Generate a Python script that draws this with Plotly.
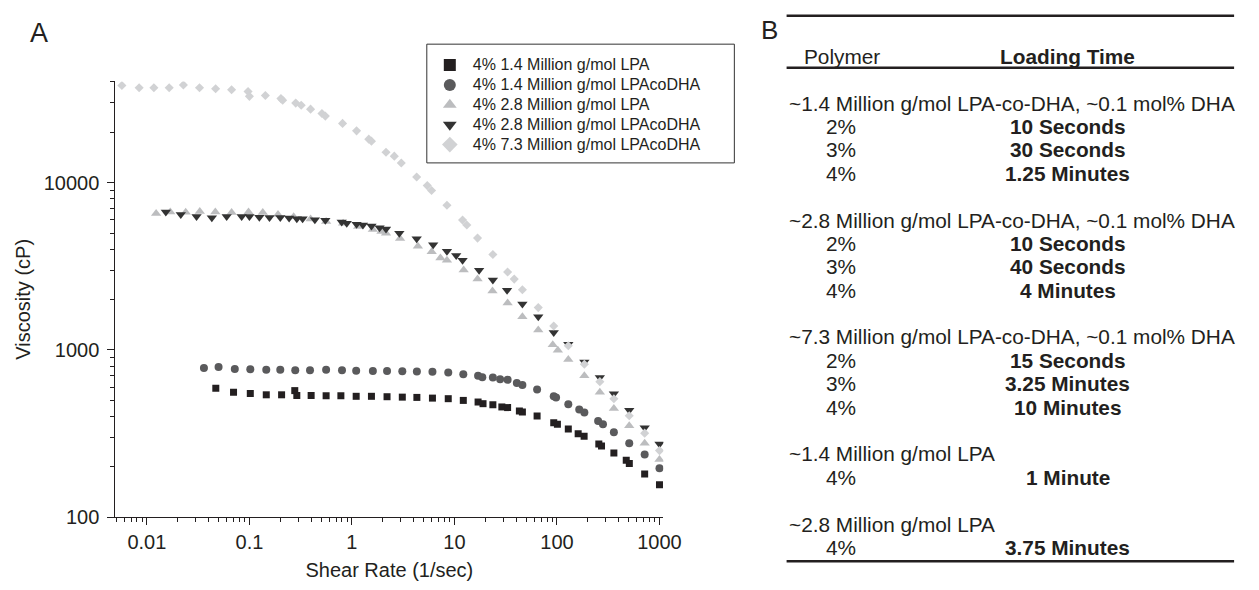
import plotly.graph_objects as go

W, H = 1259, 590

# ---------------- data ----------------
series_names = [
    "4% 1.4 Million g/mol LPA",
    "4% 1.4 Million g/mol LPAcoDHA",
    "4% 2.8 Million g/mol LPA",
    "4% 2.8 Million g/mol LPAcoDHA",
    "4% 7.3 Million g/mol LPAcoDHA",
]

sq_x = [0.047, 0.070, 0.102, 0.146, 0.206, 0.277, 0.29, 0.40, 0.56, 0.78, 1.1, 1.55, 2.2, 3.1, 4.3,
        6.1, 8.7, 12.2, 17, 19, 23.7, 29, 33, 43, 46, 64, 93, 101, 129, 161, 184, 256, 272, 359,
        474, 508, 717, 1000]
sq_y = [590, 558, 549, 539, 539, 571, 534, 534, 532, 532, 528, 528, 525, 522, 520,
        515, 511, 499, 488, 477, 470, 456, 452, 432, 426, 403, 367, 359, 337, 315, 305, 274, 266, 242,
        219, 209, 181, 156]

circ_x = [0.036, 0.050, 0.072, 0.102, 0.146, 0.2, 0.28, 0.39, 0.56, 0.8, 1.1, 1.6, 2.2, 3.1, 4.3,
          6.1, 8.7, 12.2, 17, 18.7, 23.7, 27.9, 33, 40.6, 46, 64, 93, 98, 129, 165, 185, 252, 281,
          359, 507, 717, 1000]
circ_y = [780, 790, 770, 765, 760, 760, 755, 755, 760, 755, 750, 748, 748, 745, 742,
          740, 732, 716, 700, 687, 684, 668, 663, 634, 617, 579, 529, 520, 473, 440, 422, 376, 359,
          322, 277, 237, 196]

up_x = [0.0123, 0.0169, 0.0239, 0.0328, 0.0465, 0.067, 0.098, 0.135, 0.19, 0.27, 0.395, 0.56, 0.82,
        1.15, 1.6, 1.94, 2.15, 2.95, 4.4, 6.0, 7.3, 8.45, 12.3, 16.8, 23.5, 33, 46, 65.7, 91, 102,
        129, 185, 262, 359, 507, 717, 1000]
up_y = [6550, 6680, 6650, 6730, 6680, 6620, 6680, 6620, 6450, 6250, 6060, 5850, 5720,
        5460, 5250, 5110, 4990, 4640, 4160, 3860, 3550, 3440, 3000, 2650, 2250, 1910, 1580, 1315, 1075, 995,
        877, 700, 558, 446, 352, 277, 221]

dn_x = [0.0153, 0.0214, 0.0305, 0.043, 0.06, 0.084, 0.1, 0.125, 0.157, 0.2, 0.244, 0.29, 0.33, 0.435,
        0.55, 0.795, 0.89, 1.11, 1.28, 1.55, 1.86, 2.15, 2.9, 4.28, 6.2, 8.45, 10.4, 12.0, 17.4, 23.7,
        32.6, 46, 65.7, 93, 129, 185, 262, 359, 507, 717, 1000]
dn_y = [6680, 6460, 6280, 6170, 6280, 6280, 6280, 6210, 6190, 6190, 6140, 6080, 6080, 6000,
        5950, 5820, 5720, 5640, 5580, 5510, 5380, 5290, 4990, 4620, 4250, 3890, 3670, 3440, 2990, 2620,
        2270, 1880, 1580, 1270, 1080, 847, 684, 546, 436, 343, 274]

dia_x = [0.0057, 0.0084, 0.0117, 0.0165, 0.0227, 0.0326, 0.0468, 0.067, 0.097, 0.10, 0.143, 0.203,
         0.211, 0.283, 0.32, 0.395, 0.51, 0.55, 0.81, 1.11, 1.46, 1.55, 2.15, 2.59, 3.03, 4.28, 5.43,
         5.98, 8.45, 12.0, 13.2, 16.8, 23.7, 33, 38.3, 46, 65.7, 93, 129, 185, 262, 359, 507, 717, 1000]
dia_y = [38100, 36900, 36900, 36900, 38400, 36900, 36400, 35900, 35100, 32800, 33200, 31800,
         31100, 29900, 29000, 27500, 25900, 25000, 22600, 20400, 18200, 17700, 15200, 14400, 13100, 10800, 9600,
         8980, 7320, 5970, 5580, 4660, 3720, 2920, 2650, 2290, 1790, 1390, 1060, 820, 646, 511, 404, 318, 250]

x_tickvals = [0.01, 0.1, 1, 10, 100, 1000]
x_ticktext = ["0.01", "0.1", "1", "10", "100", "1000"]
y_tickvals = [100, 1000, 10000]
y_ticktext = ["100", "1000", "10000"]

# table (panel B)
table_headers = ["Polymer", "Loading Time"]
group_titles = [
    "~1.4 Million g/mol LPA-co-DHA, ~0.1 mol% DHA",
    "~2.8 Million g/mol LPA-co-DHA, ~0.1 mol% DHA",
    "~7.3 Million g/mol LPA-co-DHA, ~0.1 mol% DHA",
    "~1.4 Million g/mol LPA",
    "~2.8 Million g/mol LPA",
]
group_concs = [["2%", "3%", "4%"], ["2%", "3%", "4%"], ["2%", "3%", "4%"], ["4%"], ["4%"]]
group_times = [
    ["10 Seconds", "30 Seconds", "1.25 Minutes"],
    ["10 Seconds", "40 Seconds", "4 Minutes"],
    ["15 Seconds", "3.25 Minutes", "10 Minutes"],
    ["1 Minute"],
    ["3.75 Minutes"],
]

# ---------------- styling ----------------
FONT = "Liberation Sans, Arial, Helvetica, sans-serif"
TXT = "#231f20"
styles = [
    dict(symbol="square", size=7, color="#231f20"),
    dict(symbol="circle", size=8, color="#5a5a5c"),
    dict(symbol="triangle-up", size=9, color="#bcbdbf"),
    dict(symbol="triangle-down", size=9, color="#333333"),
    dict(symbol="diamond", size=7, color="#d1d2d4"),
]
xs = [sq_x, circ_x, up_x, dn_x, dia_x]
ys = [sq_y, circ_y, up_y, dn_y, dia_y]

fig = go.Figure()
for name, x, y, st in zip(series_names, xs, ys, styles):
    fig.add_trace(go.Scatter(
        x=x, y=y, mode="markers",
        name='<span style="font-size:16px">' + name + "</span>",
        marker=dict(symbol=st["symbol"], size=st["size"], color=st["color"], line=dict(width=0)),
    ))

def px(v):
    return v / W

def py(v):
    return 1 - v / H

x0, x1 = 117, 673
y0, y1 = 83, 527

minor_x = [m * 10 ** e for e in range(-3, 4) for m in range(2, 10)]
minor_y = [m * 10 ** e for e in range(2, 5) for m in range(2, 10)]

fig.update_layout(
    width=W, height=H,
    margin=dict(l=0, r=0, t=0, b=0),
    paper_bgcolor="white", plot_bgcolor="white",
    font=dict(family=FONT, color=TXT),
    showlegend=True,
    legend=dict(
        x=px(433), y=py(51), xanchor="left", yanchor="top",
        borderwidth=0, bgcolor="rgba(0,0,0,0)",
        font=dict(size=13, family=FONT, color=TXT),
        itemsizing="constant", tracegroupgap=0, itemwidth=36,
    ),
    xaxis=dict(
        type="log", domain=[px(x0), px(x1)], range=[-2.308, 3.038],
        showline=True, linecolor="#231f20", linewidth=1, showgrid=False, zeroline=False,
        ticks="outside", ticklen=7, tickwidth=1, tickcolor="#231f20",
        tickmode="array", tickvals=x_tickvals, ticktext=x_ticktext,
        tickfont=dict(size=20, family=FONT, color=TXT),
        minor=dict(ticks="outside", ticklen=4, tickwidth=1, tickcolor="#231f20",
                   tickmode="array", tickvals=minor_x, showgrid=False),
        title=dict(text="Shear Rate (1/sec)", font=dict(size=20, family=FONT, color=TXT), standoff=10),
        anchor="y",
    ),
    yaxis=dict(
        type="log", domain=[py(y1), py(y0)], range=[2, 4.605],
        showline=True, linecolor="#231f20", linewidth=1, showgrid=False, zeroline=False,
        ticks="outside", ticklen=7, tickwidth=1, tickcolor="#231f20",
        tickmode="array", tickvals=y_tickvals, ticktext=y_ticktext,
        tickfont=dict(size=20, family=FONT, color=TXT), ticklabelstandoff=4,
        minor=dict(ticks="outside", ticklen=4, tickwidth=1, tickcolor="#231f20",
                   tickmode="array", tickvals=minor_y, showgrid=False),
        title=dict(text="Viscosity (cP)", font=dict(size=20, family=FONT, color=TXT), standoff=7),
        anchor="x",
    ),
)

ann = []
# panel letters
ann.append(dict(text="A", x=px(40), y=py(34), xanchor="center", yanchor="middle",
                font=dict(size=27, family=FONT, color=TXT)))
ann.append(dict(text="B", x=px(781), y=py(31), xanchor="center", yanchor="middle",
                font=dict(size=26, family=FONT, color=TXT)))

TF = 20.8
# table header
ann.append(dict(text=table_headers[0], x=px(854), y=py(58), xanchor="center", yanchor="middle",
                font=dict(size=TF, family=FONT, color=TXT)))
ann.append(dict(text="<b>" + table_headers[1] + "</b>", x=px(1083), y=py(58), xanchor="center",
                yanchor="middle", font=dict(size=TF, family=FONT, color=TXT)))

yy = 105.0
step = 23.84
for title, concs, times in zip(group_titles, group_concs, group_times):
    ann.append(dict(text=title, x=px(799), y=py(yy), xanchor="left", yanchor="middle",
                    font=dict(size=TF, family=FONT, color=TXT)))
    for c, t in zip(concs, times):
        yy += step
        ann.append(dict(text=c, x=px(837), y=py(yy), xanchor="left", yanchor="middle",
                        font=dict(size=TF, family=FONT, color=TXT)))
        ann.append(dict(text="<b>" + t + "</b>", x=px(1083), y=py(yy), xanchor="center",
                        yanchor="middle", font=dict(size=TF, family=FONT, color=TXT)))
    yy += 2 * step

for a in ann:
    a.update(xref="paper", yref="paper", showarrow=False, borderpad=0)
fig.update_layout(annotations=ann)

shapes = []
for ly in (16, 69, 572):
    shapes.append(dict(type="line", xref="paper", yref="paper", x0=px(798), x1=px(1252),
                       y0=py(ly), y1=py(ly), line=dict(color="#231f20", width=2.5)))
# legend frame
shapes.append(dict(type="rect", xref="paper", yref="paper", x0=px(433), x1=px(745),
                   y0=py(166), y1=py(45), line=dict(color="#333333", width=1)))
fig.update_layout(shapes=shapes)

fig.write_html(
    "out.html",
    config={"displayModeBar": False},
    post_script=(
        "document.documentElement.style.margin='0';"
        "document.documentElement.style.overflow='hidden';"
        "document.body.style.margin='0';document.body.style.padding='0';"
        "document.body.style.overflow='hidden';"
        "var gd=document.getElementById('{plot_id}');"
        "var vw=window.innerWidth, vh=window.innerHeight;"
        "if(vw>0 && vh>0 && (vw!==1259 || vh!==590)){"
        "  gd.style.width=vw+'px'; gd.style.height=vh+'px';"
        "  Plotly.relayout(gd, {width: vw, height: vh});"
        "}"
    ),
)
